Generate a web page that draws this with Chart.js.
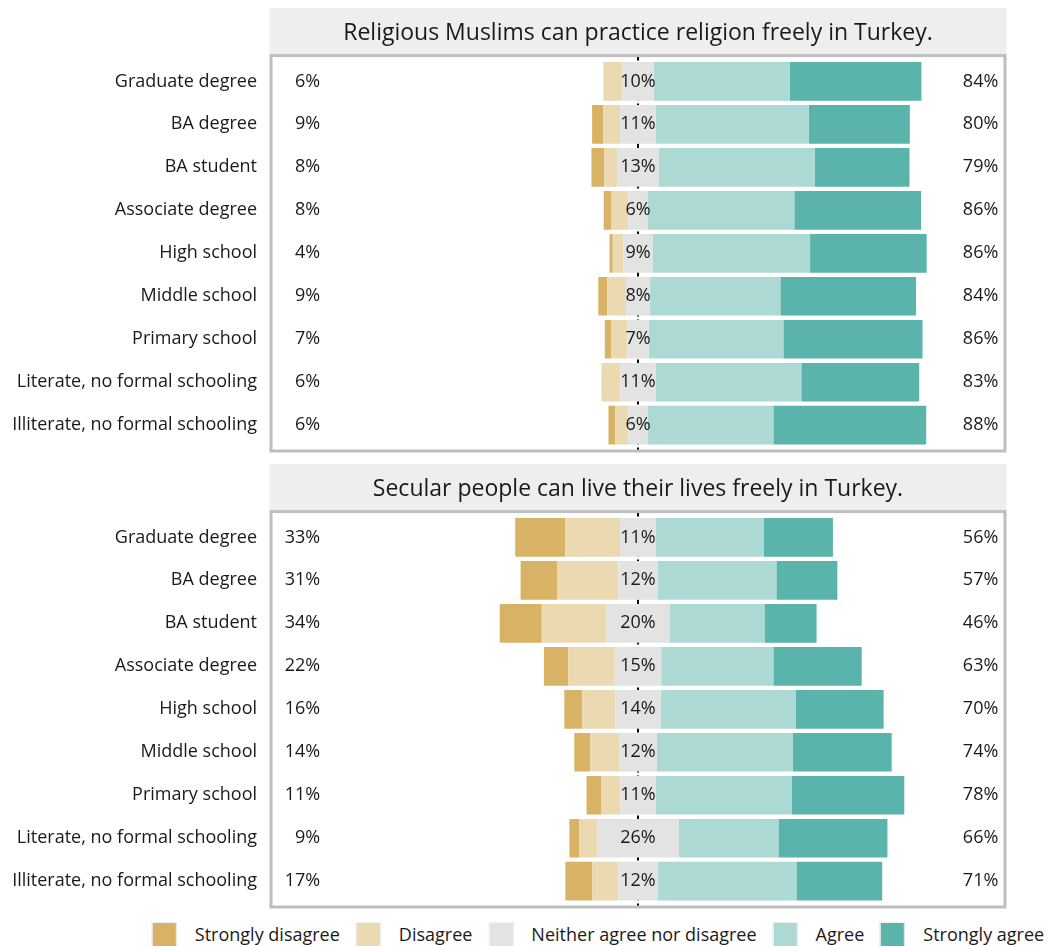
<!DOCTYPE html>
<html>
<head>
<meta charset="utf-8">
<script src="https://cdn.jsdelivr.net/npm/chart.js@4.4.1/dist/chart.umd.min.js"></script>
<style>
  html, body { margin: 0; padding: 0; background: #ffffff; }
  #wrap { position: relative; width: 1048px; height: 946px; overflow: hidden; font-family: 'Open Sans', sans-serif; }
  .panel { position: absolute; left: 0; width: 1048px; height: 460px; }
  #legend { position: absolute; top: 922px; left: 598px; transform: translateX(-50%); display: flex; align-items: center; white-space: nowrap; }
  .item { display: flex; align-items: center; margin-right: 16px; }
  .item:last-child { margin-right: 0; }
  .key { width: 23px; height: 23px; border: 1px solid #f0f0f0; margin-right: 18px; }
  .lab { font-size: 18px; color: #1a1a1a; line-height: 25px; }
</style>
</head>
<body>
<div id="wrap">
  <div class="panel" style="top:0px"><canvas id="c1" width="1048" height="460"></canvas></div>
  <div class="panel" style="top:456px"><canvas id="c2" width="1048" height="460"></canvas></div>
  <div id="legend"></div>
</div>
<script>
// ---- data ----
const categories = [
  "Graduate degree", "BA degree", "BA student", "Associate degree", "High school",
  "Middle school", "Primary school", "Literate, no formal schooling", "Illiterate, no formal schooling"
];
const responseLevels = ["Strongly disagree", "Disagree", "Neither agree nor disagree", "Agree", "Strongly agree"];
const panelTitles = [
  "Religious Muslims can practice religion freely in Turkey.",
  "Secular people can live their lives freely in Turkey."
];

// Panel 1: Religious Muslims can practice religion freely
const religiousStronglyDisagree = [0.0, 3.5, 4.1, 2.5, 1.0, 2.8, 2.1, 0.0, 2.2];
const religiousDisagree         = [6.0, 5.3, 4.1, 5.3, 3.4, 5.9, 5.0, 6.0, 4.1];
const religiousNeutral          = [9.8, 11.3, 12.9, 6.0, 9.1, 7.6, 6.7, 11.0, 6.0];
const religiousAgree            = [42.8, 48.1, 49.1, 46.2, 49.6, 41.0, 42.4, 45.9, 39.6];
const religiousStronglyAgree    = [41.5, 31.8, 29.9, 39.9, 36.7, 42.7, 43.8, 37.1, 48.1];

// Panel 2: Secular people can live their lives freely
const secularStronglyDisagree = [15.7, 11.6, 13.2, 7.7, 5.7, 5.0, 4.7, 3.1, 8.5];
const secularDisagree         = [17.3, 19.2, 20.4, 14.6, 10.4, 9.1, 6.0, 5.7, 8.2];
const secularNeutral          = [11.3, 12.3, 19.8, 14.6, 14.2, 11.9, 11.0, 25.6, 12.3];
const secularAgree            = [34.0, 37.4, 29.9, 35.3, 42.5, 42.8, 42.8, 31.4, 43.7];
const secularStronglyAgree    = [21.7, 19.2, 16.4, 27.8, 27.7, 31.1, 35.5, 34.3, 27.0];

const xTickValues = [-100, -75, -50, -25, 0, 25, 50, 75, 100];

// ---- styles ----
const COLORS = ["#D8B365", "#EBD9B2", "#E3E3E3", "#ADD9D5", "#5AB4AC"];
const FONT = "'Open Sans', 'Noto Sans', sans-serif";
const TEXT = "#1a1a1a";

function toPts(arr, sign) {
  return arr.map((v, i) => ({ x: sign * v, y: i }));
}

const stripPlugin = {
  id: 'strip',
  beforeDraw(chart) {
    const { ctx, chartArea } = chart;
    const tb = chart.titleBlock;
    ctx.save();
    ctx.fillStyle = '#EEEEEE';
    ctx.fillRect(chartArea.left - 1.5, tb.top, chartArea.right - chartArea.left + 3, chartArea.top - tb.top);
    ctx.restore();
  }
};

const zeroLinePlugin = {
  id: 'zeroLine',
  beforeDatasetsDraw(chart) {
    const { ctx, chartArea, scales } = chart;
    const x0 = scales.x.getPixelForValue(0);
    ctx.save();
    ctx.strokeStyle = '#000000';
    ctx.lineWidth = 2;
    ctx.setLineDash([5, 3]);
    ctx.beginPath();
    ctx.moveTo(x0, chartArea.top);
    ctx.lineTo(x0, chartArea.bottom);
    ctx.stroke();
    ctx.restore();
  }
};

const pctLabelPlugin = {
  id: 'pctLabels',
  afterDatasetsDraw(chart, args, opts) {
    const { ctx, scales } = chart;
    const d = opts.series;
    ctx.save();
    ctx.font = "18px " + FONT;
    ctx.fillStyle = TEXT;
    ctx.textBaseline = 'middle';
    const xl = scales.x.getPixelForValue(-100);
    const x0 = scales.x.getPixelForValue(0);
    const xr = scales.x.getPixelForValue(100);
    categories.forEach((c, i) => {
      const y = scales.y.getPixelForValue(i);
      const low = Math.round(d.sd[i] + d.d[i]) + '%';
      const mid = Math.round(d.n[i]) + '%';
      const high = Math.round(d.a[i] + d.sa[i]) + '%';
      ctx.textAlign = 'right';
      ctx.fillText(low, xl, y);
      ctx.textAlign = 'center';
      ctx.fillText(mid, x0, y);
      ctx.textAlign = 'left';
      const w = ctx.measureText(high).width;
      ctx.fillText(high, xr + 0.2 * w, y);
    });
    ctx.restore();
  }
};

const borderPlugin = {
  id: 'panelBorder',
  afterDraw(chart) {
    const { ctx, chartArea } = chart;
    ctx.save();
    ctx.strokeStyle = '#BEBEBE';
    ctx.lineWidth = 3;
    ctx.strokeRect(chartArea.left, chartArea.top, chartArea.right - chartArea.left, chartArea.bottom - chartArea.top);
    ctx.restore();
  }
};

function makeChart(canvasId, title, sd, dis, neu, agr, sagr) {
  const half = neu.map(v => v / 2);
  const datasets = [
    { label: responseLevels[2], data: toPts(half, -1), backgroundColor: COLORS[2] },
    { label: responseLevels[1], data: toPts(dis, -1), backgroundColor: COLORS[1] },
    { label: responseLevels[0], data: toPts(sd, -1), backgroundColor: COLORS[0] },
    { label: responseLevels[2], data: toPts(half, 1), backgroundColor: COLORS[2] },
    { label: responseLevels[3], data: toPts(agr, 1), backgroundColor: COLORS[3] },
    { label: responseLevels[4], data: toPts(sagr, 1), backgroundColor: COLORS[4] }
  ].map(ds => Object.assign(ds, { borderWidth: 0, barPercentage: 0.9, categoryPercentage: 1.0, stack: 's' }));

  return new Chart(document.getElementById(canvasId), {
    type: 'bar',
    data: { datasets },
    options: {
      indexAxis: 'y',
      responsive: false,
      animation: false,
      devicePixelRatio: 1,
      layout: { padding: { top: 8, bottom: 9, left: 0, right: 43 } },
      scales: {
        x: {
          type: 'linear', stacked: true, min: -115.5, max: 115.5, display: false,
          afterBuildTicks: (scale) => { scale.ticks = xTickValues.map(v => ({ value: v })); }
        },
        y: {
          type: 'linear', stacked: true, reverse: true, min: -0.6, max: 8.6,
          offset: false, grace: 0,
          grid: { display: false, drawTicks: false, offset: false },
          border: { display: false },
          afterBuildTicks: (scale) => { scale.ticks = categories.map((c, i) => ({ value: i })); },
          afterFit: (scale) => { scale.width = 271; scale.paddingTop = 0; scale.paddingBottom = 0; },
          ticks: {
            autoSkip: false,
            padding: 14,
            color: TEXT,
            font: { family: FONT, size: 18 },
            callback: (v) => categories[v]
          }
        }
      },
      plugins: {
        legend: { display: false },
        tooltip: { enabled: false },
        title: {
          display: true, text: title, fullSize: false,
          color: TEXT, font: { family: FONT, size: 23, weight: 'normal' },
          padding: { top: 12, bottom: 8 }
        },
        pctLabels: { series: { sd, d: dis, n: neu, a: agr, sa: sagr } }
      }
    },
    plugins: [stripPlugin, zeroLinePlugin, pctLabelPlugin, borderPlugin]
  });
}

makeChart('c1', panelTitles[0], religiousStronglyDisagree, religiousDisagree, religiousNeutral, religiousAgree, religiousStronglyAgree);
makeChart('c2', panelTitles[1], secularStronglyDisagree, secularDisagree, secularNeutral, secularAgree, secularStronglyAgree);

// ---- legend ----
const legend = document.getElementById('legend');
responseLevels.forEach((name, i) => {
  const item = document.createElement('div');
  item.className = 'item';
  const key = document.createElement('div');
  key.className = 'key';
  key.style.background = COLORS[i];
  const lab = document.createElement('span');
  lab.className = 'lab';
  lab.textContent = name;
  item.appendChild(key);
  item.appendChild(lab);
  legend.appendChild(item);
});
</script>
</body>
</html>
